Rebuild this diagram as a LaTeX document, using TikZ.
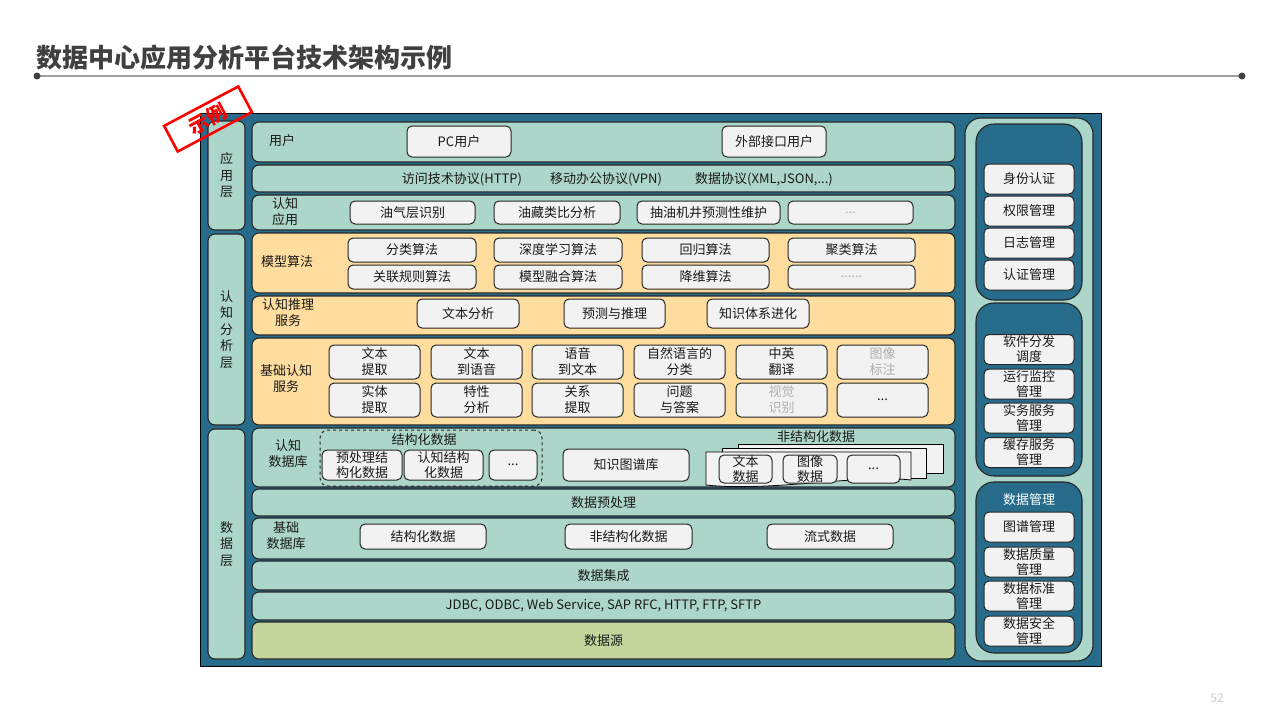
\documentclass[tikz,border=0pt]{standalone}
\usepackage{fontspec}
\setmainfont{Noto Sans CJK SC}
\usetikzlibrary{calc}
\definecolor{frame}{RGB}{39,109,139}
\definecolor{lteal}{RGB}{172,214,201}
\definecolor{orng}{RGB}{255,221,158}
\definecolor{boxf}{RGB}{242,242,242}
\definecolor{olive}{RGB}{196,214,155}
\definecolor{txt}{RGB}{25,25,25}
\definecolor{graytxt}{RGB}{175,175,175}
\definecolor{titlec}{RGB}{64,64,64}
\definecolor{edge}{RGB}{38,38,38}
\tikzset{
  fnt/.style={font=\fontsize{13}{16}\selectfont},
  rowbox/.style={draw=edge, line width=1.1pt, rounded corners=7pt, inner sep=0pt, fnt, text=txt},
  tealrow/.style={rowbox, fill=lteal},
  orow/.style={rowbox, fill=orng},
  colbox/.style={draw=edge, line width=1.1pt, rounded corners=7pt, fill=lteal, inner sep=0pt, fnt, text=txt, align=center, font=\fontsize{13}{16.5}\selectfont},
  itembox/.style={draw=edge, line width=1pt, rounded corners=5pt, fill=boxf, inner sep=0pt, fnt, text=txt, align=center},
  rlabel/.style={inner sep=0pt, fnt, text=txt, align=center},
  grayt/.style={text=graytxt},
  sbox/.style={itembox, font=\fontsize{13}{15}\selectfont},
  sheet/.style={draw=black, line width=0.8pt, fill=boxf},
}
\begin{document}
\begin{tikzpicture}[x=1pt,y=-1pt]
\useasboundingbox (0,0) rectangle (1280,720);
% title
\node[anchor=west, inner sep=0pt, text=titlec, font=\fontsize{26}{30}\selectfont\bfseries] (title) at (36,57) {数据中心应用分析平台技术架构示例};
\coordinate (tl) at (37,76);
\coordinate (tr) at (1242,76);
\draw[line width=2pt, color=gray!75] (tl) -- (tr);
\fill[titlec] (tl) circle (3.5);
\fill[titlec] (tr) circle (3.5);
\node[inner sep=0pt, text=gray!40, font=\fontsize{12}{14}\selectfont] (pnum) at (1217,698) {52};

% outer frame
\node[draw=black, line width=1pt, fill=frame, minimum width=901, minimum height=553, inner sep=0pt] (frm) at (650.5,389.5) {};

% left column
\node[colbox, minimum width=37, minimum height=109] (L1) at (226.5,175.5) {应\\用\\层};
\node[colbox, minimum width=37, minimum height=191] (L2) at (226.5,329.5) {认\\知\\分\\析\\层};
\node[colbox, minimum width=37, minimum height=230] (L3) at (226.5,544) {数\\据\\层};

% rows
\node[tealrow, minimum width=703, minimum height=40] (R1) at (603.5,142) {};
\node[tealrow, minimum width=703, minimum height=27] (R2) at (603.5,178.5) {};
\node[tealrow, minimum width=703, minimum height=35] (R3) at (603.5,212.5) {};
\node[orow, minimum width=703, minimum height=60] (R4) at (603.5,263) {};
\node[orow, minimum width=703, minimum height=39] (R5) at (603.5,315.5) {};
\node[orow, minimum width=703, minimum height=87] (R6) at (603.5,381.5) {};
\node[tealrow, minimum width=703, minimum height=59] (R7) at (603.5,457.5) {};
\node[tealrow, minimum width=703, minimum height=27] (R8) at (603.5,502.5) {数据预处理};
\node[tealrow, minimum width=703, minimum height=41] (R9) at (603.5,538.5) {};
\node[tealrow, minimum width=703, minimum height=29] (R10) at (603.5,575.5) {数据集成};
\node[tealrow, minimum width=703, minimum height=28] (R11) at (603.5,606) {JDBC, ODBC, Web Service, SAP RFC, HTTP, FTP, SFTP};
\node[rowbox, fill=olive, minimum width=703, minimum height=37] (R12) at (603.5,640.5) {数据源};

% row labels
\node[rlabel] (lab1) at (282,141) {用户};
\node[rlabel] (lab3) at (285,212) {认知\\应用};
\node[rlabel] (lab4) at (287,262) {模型算法};
\node[rlabel] (lab5) at (288,313) {认知推理\\服务};
\node[rlabel] (lab6) at (286,379) {基础认知\\服务};
\node[rlabel] (lab7) at (288,454) {认知\\数据库};
\node[rlabel] (lab9) at (286,536) {基础\\数据库};

% row 1
\node[itembox, minimum width=104, minimum height=31] (pc) at (459,141.5) {PC用户};
\node[itembox, minimum width=104, minimum height=31] (ext) at (774,141.5) {外部接口用户};
% row 2
\node[rlabel] (p1) at (462,179) {访问技术协议(HTTP)};
\node[rlabel] (p2) at (606,179) {移动办公协议(VPN)};
\node[rlabel] (p3) at (764,179) {数据协议(XML,JSON,...)};
% row 3
\node[itembox, minimum width=125, minimum height=23] (a1) at (412.5,212.5) {油气层识别};
\node[itembox, minimum width=126, minimum height=23] (a2) at (557,212.5) {油藏类比分析};
\node[itembox, minimum width=143, minimum height=23] (a3) at (708.5,212.5) {抽油机井预测性维护};
\node[itembox, grayt, minimum width=125, minimum height=23] (a4) at (850.5,212.5) {...};
% row 4
\node[itembox, minimum width=128, minimum height=24] (m11) at (412,250) {分类算法};
\node[itembox, minimum width=128, minimum height=24] (m12) at (558,250) {深度学习算法};
\node[itembox, minimum width=127, minimum height=24] (m13) at (705.5,250) {回归算法};
\node[itembox, minimum width=127, minimum height=24] (m14) at (851.5,250) {聚类算法};
\node[itembox, minimum width=128, minimum height=24] (m21) at (412,277) {关联规则算法};
\node[itembox, minimum width=128, minimum height=24] (m22) at (558,277) {模型融合算法};
\node[itembox, minimum width=127, minimum height=24] (m23) at (705.5,277) {降维算法};
\node[itembox, grayt, minimum width=127, minimum height=24] (m24) at (851.5,277) {......};
% row 5
\node[itembox, minimum width=102, minimum height=29] (i1) at (468,313.5) {文本分析};
\node[itembox, minimum width=101, minimum height=29] (i2) at (614.5,313.5) {预测与推理};
\node[itembox, minimum width=102, minimum height=29] (i3) at (758,313.5) {知识体系进化};
% row 6
\node[itembox, minimum width=91, minimum height=34] (c11) at (374.5,362) {文本\\提取};
\node[itembox, minimum width=91, minimum height=34] (c12) at (476.5,362) {文本\\到语音};
\node[itembox, minimum width=91, minimum height=34] (c13) at (577.5,362) {语音\\到文本};
\node[itembox, minimum width=91, minimum height=34] (c14) at (679.5,362) {自然语言的\\分类};
\node[itembox, minimum width=91, minimum height=34] (c15) at (781.5,362) {中英\\翻译};
\node[itembox, grayt, minimum width=91, minimum height=34] (c16) at (882.5,362) {图像\\标注};
\node[itembox, minimum width=91, minimum height=34] (c21) at (374.5,400) {实体\\提取};
\node[itembox, minimum width=91, minimum height=34] (c22) at (476.5,400) {特性\\分析};
\node[itembox, minimum width=91, minimum height=34] (c23) at (577.5,400) {关系\\提取};
\node[itembox, minimum width=91, minimum height=34] (c24) at (679.5,400) {问题\\与答案};
\node[itembox, grayt, minimum width=91, minimum height=34] (c25) at (781.5,400) {视觉\\识别};
\node[itembox, minimum width=91, minimum height=34] (c26) at (882.5,400) {...};
% row 7
\node[draw=edge, line width=1pt, dashed, rounded corners=8pt, minimum width=222, minimum height=56, inner sep=0pt] (dash) at (431,458) {};
\node[rlabel] (sdl) at (424,440) {结构化数据};
\node[sbox, minimum width=80, minimum height=30] (s1) at (362,465) {预处理结\\构化数据};
\node[sbox, minimum width=79, minimum height=30] (s2) at (443.5,465) {认知结构\\化数据};
\node[sbox, minimum width=48, minimum height=30] (s3) at (513,465) {...};
\node[itembox, minimum width=126, minimum height=32] (kg) at (626,465) {知识图谱库};
\node[rlabel] (udl) at (816,437) {非结构化数据};
\draw[sheet] (738,444) rectangle (943,473);
\draw[sheet] (722,448) rectangle (926,478);
\draw[sheet] (706,452) -- (911,452) -- (911,480) .. controls (860,474) and (770,492) .. (706,485) -- cycle;
\node[sbox, minimum width=53, minimum height=28] (u1) at (745.5,469) {文本\\数据};
\node[sbox, minimum width=54, minimum height=28] (u2) at (810,469) {图像\\数据};
\node[sbox, minimum width=53, minimum height=28] (u3) at (873.5,469) {...};
% row 9
\node[itembox, minimum width=126, minimum height=25] (b1) at (423,536.5) {结构化数据};
\node[itembox, minimum width=127, minimum height=25] (b2) at (628.5,536.5) {非结构化数据};
\node[itembox, minimum width=126, minimum height=25] (b3) at (830,536.5) {流式数据};

% right column
\node[draw=edge, line width=1.1pt, fill=lteal, rounded corners=16pt, minimum width=128, minimum height=543, inner sep=0pt] (rc) at (1029,389.5) {};
\node[draw=edge, line width=1.1pt, fill=frame, rounded corners=18pt, minimum width=106, minimum height=176, inner sep=0pt] (g1) at (1029,212) {};
\node[draw=edge, line width=1.1pt, fill=frame, rounded corners=18pt, minimum width=106, minimum height=173, inner sep=0pt] (g2) at (1029,389.5) {};
\node[draw=edge, line width=1.1pt, fill=frame, rounded corners=18pt, minimum width=106, minimum height=171, inner sep=0pt] (g3) at (1029,567.5) {};
\node[itembox, minimum width=90, minimum height=30] (r11) at (1029,179) {身份认证};
\node[itembox, minimum width=90, minimum height=30] (r12) at (1029,211) {权限管理};
\node[itembox, minimum width=90, minimum height=30] (r13) at (1029,243) {日志管理};
\node[itembox, minimum width=90, minimum height=30] (r14) at (1029,275) {认证管理};
\node[sbox, minimum width=90, minimum height=30] (r21) at (1029,349.5) {软件分发\\调度};
\node[sbox, minimum width=90, minimum height=30] (r22) at (1029,384) {运行监控\\管理};
\node[sbox, minimum width=90, minimum height=30] (r23) at (1029,418) {实务服务\\管理};
\node[sbox, minimum width=90, minimum height=30] (r24) at (1029,452.5) {缓存服务\\管理};
\node[rlabel, text=white] (g3t) at (1029,500) {数据管理};
\node[itembox, minimum width=90, minimum height=30] (r31) at (1029,527) {图谱管理};
\node[sbox, minimum width=90, minimum height=30] (r32) at (1029,562) {数据质量\\管理};
\node[sbox, minimum width=90, minimum height=30] (r33) at (1029,596) {数据标准\\管理};
\node[sbox, minimum width=90, minimum height=30] (r34) at (1029,631) {数据安全\\管理};

% stamp
\node[draw=red, line width=2.6pt, rotate=28, minimum width=84, minimum height=29, inner sep=0pt, text=red, font=\fontsize{20}{22}\selectfont\bfseries] (stamp) at (208,119) {示例};
\end{tikzpicture}
\end{document}
